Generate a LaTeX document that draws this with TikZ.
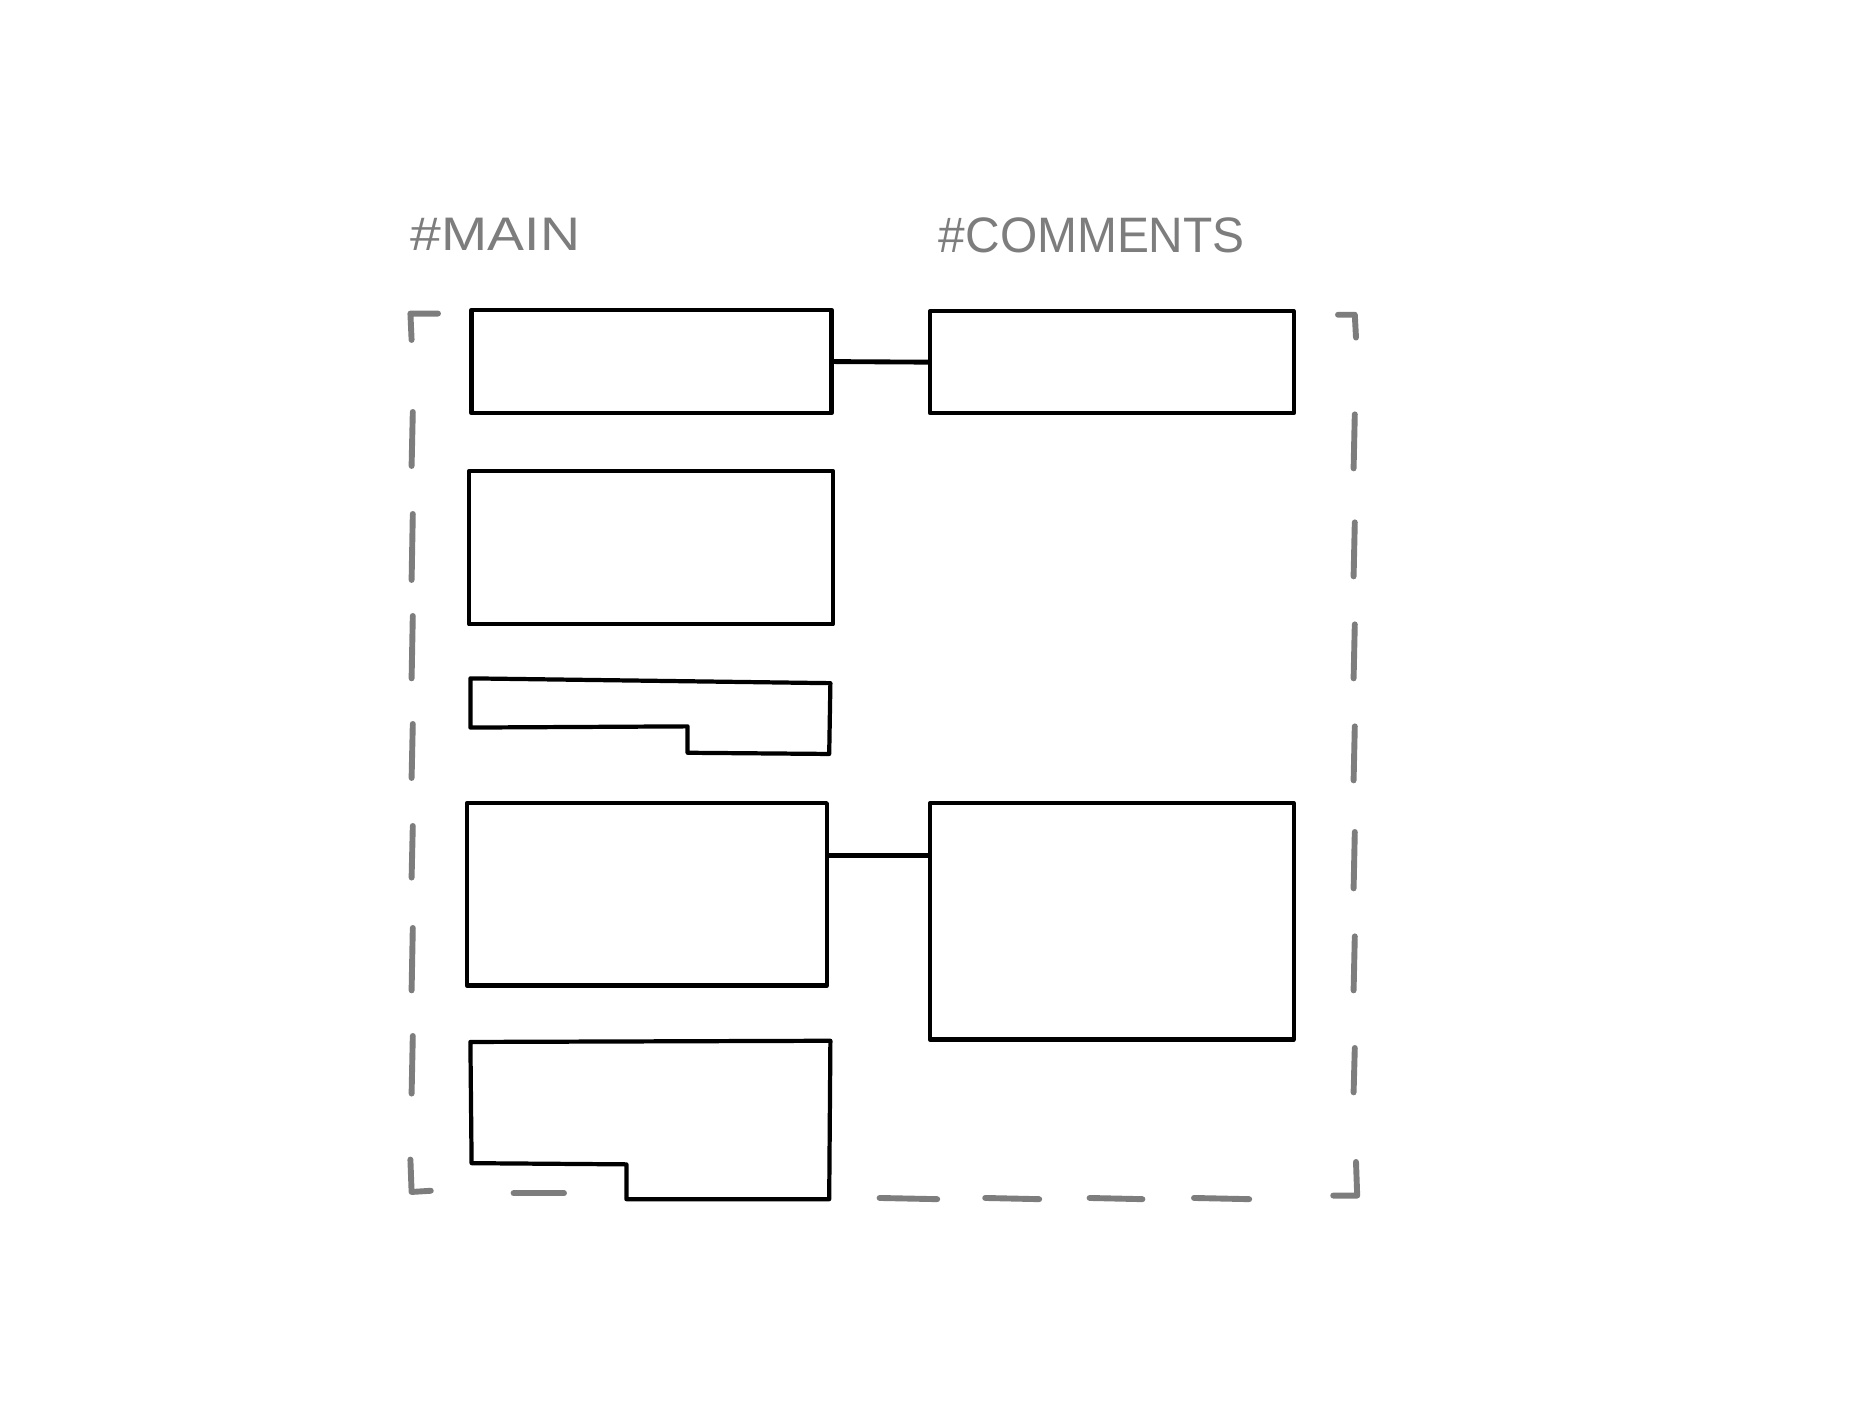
\documentclass[tikz,border=0pt]{standalone}
\usepackage{fontspec}
\setmainfont{Liberation Sans}
\usetikzlibrary{fit,calc}
\definecolor{pencil}{RGB}{125,125,125}
\tikzset{
  box/.style={draw=black, line width=2pt, inner sep=0pt, line join=round},
  boxline/.style={draw=black, line width=2pt, line join=round},
  link/.style={draw=black, line width=2.3pt},
  framedash/.style={draw=pencil, line width=2.8pt, line cap=round, line join=round},
  heading/.style={text=pencil, anchor=west, inner sep=0pt}
}
\begin{document}
\begin{tikzpicture}[x=0.02cm, y=-0.02cm]
\useasboundingbox[fill=white] (0,0) rectangle (1560,1170);
\begin{scope}[shift={(-4,-1.7)}]
% headings
\node[heading] (hmain) at (346,197) {\resizebox{2.82cm}{0.54cm}{\#MAIN}};
\node[heading] (hcom) at (786,198) {\resizebox{5.1cm}{0.58cm}{\#COMMENTS}};

% dashed frame (gray, hand-drawn)
\draw[framedash] (369,263) -- (346,263) -- (347,285);
\foreach \a/\b in {345/390, 430/485, 515/567, 605/650, 690/733, 775/827, 865/913}
  \draw[framedash] (348,\a) -- (347,\b);
\draw[framedash] (346,968) -- (347,995) -- (363,994);
\draw[framedash] (432,996) -- (474,996);
\foreach \a/\b in {737/785, 825/870, 912/956, 999/1045}
  \draw[framedash] (\a,1000) -- (\b,1001);
\draw[framedash] (1115,998) -- (1135,998) -- (1134,970);
\draw[framedash] (1119,264) -- (1133,264) -- (1134,283);
\foreach \a/\b in {347/392, 437/482, 522/567, 607/652, 695/742, 782/827, 875/912}
  \draw[framedash] (1133,\a) -- (1132,\b);

% boxes
\node[box, fit={(397,260) (697,346)}] (m1) {};
\node[box, fit={(779,261) (1082,346)}] (c1) {};
\node[box, fit={(395,394) (698,522)}] (m2) {};
\node[box, fit={(393,671) (693,823)}] (m4) {};
\node[box, fit={(779,671) (1082,868)}] (c2) {};

% stepped boxes
\draw[boxline] (396,567) coordinate (m3) -- (696,571) -- (695,630) -- (577,629)
  -- (577,607) -- (396,608) -- cycle;
\draw[boxline] (396,870) coordinate (m5) -- (696,869) -- (695,1001) -- (526,1001)
  -- (526,972) -- (397,971) -- cycle;

% connectors
\draw[link] (m1.east) -- (c1.west);
\coordinate (m4r) at ($(m4.north east)!0.29!(m4.south east)$);
\coordinate (c2l) at (m4r -| c2.west);
\draw[link] (m4r) -- (c2l);
\end{scope}
\end{tikzpicture}
\end{document}
